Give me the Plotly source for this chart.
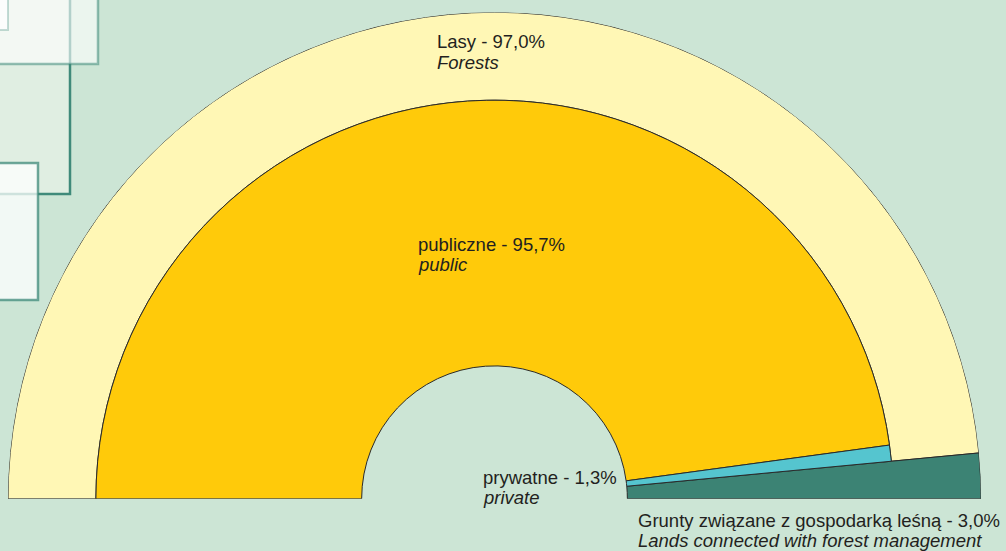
import plotly.graph_objects as go

# --- data (udział w %) ---
OUTER_LABELS = ["Lasy", "Grunty związane z gospodarką leśną"]
OUTER_LABELS_EN = ["Forests", "Lands connected with forest management"]
OUTER_SHARES = [97.0, 3.0]

INNER_LABELS = ["publiczne", "prywatne"]
INNER_LABELS_EN = ["public", "private"]
INNER_SHARES = [95.7, 1.3]

# --- style ---
BG = "#CCE5D5"
LASY_COLOR = "#FFF7B5"
GRUNTY_COLOR = "#3C8374"
PUBLIC_COLOR = "#FFCA0A"
PRIVATE_COLOR = "#55C5CF"
EDGE = "#2A2A2A"
TEXT = "#231F20"
FONT = "Liberation Sans, Arial, sans-serif"

R_HOLE, R_MID, R_OUTER = 133, 399, 487  # ring radii (radial-axis units)


def _sectors(shares, start=180.0):
    """shares (%) -> (center theta, width) going clockwise from `start`."""
    out = []
    a = start
    for s in shares:
        w = s / 100 * 180
        out.append((a - w / 2, w))
        a -= w
    return out


outer = _sectors(OUTER_SHARES)
inner = _sectors(INNER_SHARES)

fig = go.Figure()
# Lasy (outer ring)
fig.add_trace(go.Barpolar(
    theta=[outer[0][0]], width=[outer[0][1]],
    base=[R_MID], r=[R_OUTER - R_MID],
    marker=dict(color=LASY_COLOR, line=dict(color=EDGE, width=1)),
    name=OUTER_LABELS[0],
))
# Grunty (full depth)
fig.add_trace(go.Barpolar(
    theta=[outer[1][0]], width=[outer[1][1]],
    base=[R_HOLE], r=[R_OUTER - R_HOLE],
    marker=dict(color=GRUNTY_COLOR, line=dict(color=EDGE, width=1)),
    name=OUTER_LABELS[1],
))
# publiczne / prywatne (inner ring)
fig.add_trace(go.Barpolar(
    theta=[c for c, _ in inner], width=[w for _, w in inner],
    base=[R_HOLE] * len(inner), r=[R_MID - R_HOLE] * len(inner),
    marker=dict(color=[PUBLIC_COLOR, PRIVATE_COLOR], line=dict(color=EDGE, width=1)),
    name="lasy",
))

# decorative squares (top-left)
shapes = [
    dict(type="rect", xref="paper", yref="paper", x0=-0.05, x1=70 / 1006,
         y0=1 - 194 / 551, y1=1.05, fillcolor="#E0EEE2",
         line=dict(color="#3F8A7A", width=2.5), layer="below"),
    dict(type="rect", xref="paper", yref="paper", x0=-0.05, x1=98 / 1006,
         y0=1 - 64 / 551, y1=1.05, fillcolor="rgba(255,255,255,0.6)",
         line=dict(color="rgba(63,138,122,0.55)", width=2.5), layer="below"),
    dict(type="rect", xref="paper", yref="paper", x0=-0.05, x1=8 / 1006,
         y0=1 - 30 / 551, y1=1.05, fillcolor="rgba(255,255,255,0.7)",
         line=dict(color="rgba(63,138,122,0.3)", width=2), layer="below"),
    dict(type="rect", xref="paper", yref="paper", x0=-0.05, x1=38 / 1006,
         y0=1 - 300 / 551, y1=1 - 163 / 551, fillcolor="rgba(255,255,255,0.75)",
         line=dict(color="rgba(63,138,122,0.75)", width=2.5), layer="below"),
]

# labels: (x px, first-line center y px, pl, en)
labels = [
    (435, 42, f"{OUTER_LABELS[0]} - {OUTER_SHARES[0]:.1f}%".replace(".", ","), OUTER_LABELS_EN[0]),
    (416, 244, f"{INNER_LABELS[0]} - {INNER_SHARES[0]:.1f}%".replace(".", ","), INNER_LABELS_EN[0]),
    (481, 477, f"{INNER_LABELS[1]} - {INNER_SHARES[1]:.1f}%".replace(".", ","), INNER_LABELS_EN[1]),
    (636, 520, f"{OUTER_LABELS[1]} - {OUTER_SHARES[1]:.1f}%".replace(".", ","), OUTER_LABELS_EN[1]),
]
annotations = []
for x, y, pl, en in labels:
    for dy, txt in ((0, pl), (20, f"<i>{en}</i>")):
        annotations.append(dict(
            x=x / 1006, y=1 - (y + dy) / 551, xref="paper", yref="paper",
            xanchor="left", yanchor="middle", showarrow=False, text=txt,
            font=dict(family=FONT, size=18.5, color=TEXT),
        ))

fig.update_layout(
    width=1006, height=551,
    margin=dict(l=0, r=0, t=0, b=0),
    paper_bgcolor=BG,
    showlegend=False,
    shapes=shapes,
    annotations=annotations,
    polar=dict(
        domain=dict(x=[8 / 1006, 981 / 1006], y=[52 / 551, 539 / 551]),
        sector=[0, 180],
        bgcolor="rgba(0,0,0,0)",
        radialaxis=dict(range=[0, R_OUTER], visible=False, showgrid=False),
        angularaxis=dict(direction="counterclockwise", rotation=0,
                         visible=False, showgrid=False),
    ),
)

fig.write_html(
    "out.html",
    config={"displayModeBar": False},
    post_script="document.body.style.margin='0';document.body.style.background='#CCE5D5';",
)
